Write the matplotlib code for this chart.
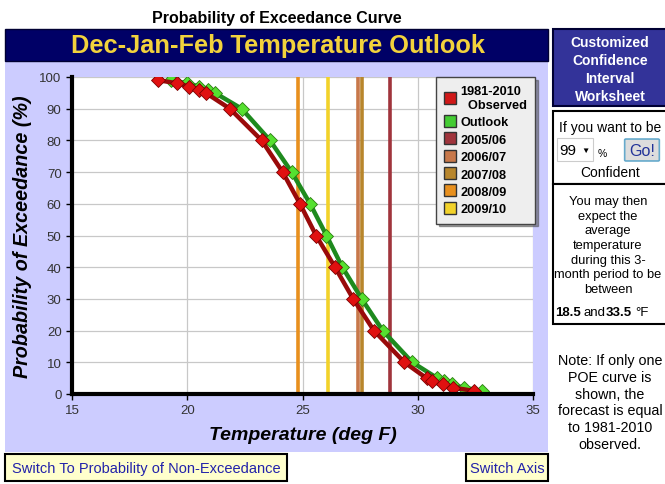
import matplotlib.pyplot as plt
from matplotlib.patches import Rectangle, FancyBboxPatch
from matplotlib.lines import Line2D

plt.rcParams['font.family'] = ['Liberation Sans', 'DejaVu Sans']

# data
prob = [99, 98, 97, 96, 95, 90, 80, 70, 60, 50, 40, 30, 20, 10, 5, 4, 3, 2, 1]
observed = [18.74, 19.57, 20.09, 20.52, 20.8, 21.85, 23.23, 24.14, 24.89, 25.59,
            26.41, 27.2, 28.1, 29.42, 30.38, 30.62, 31.08, 31.55, 32.42]
outlook = [19.28, 19.98, 20.52, 20.91, 21.2, 22.36, 23.59, 24.53, 25.33, 26.04,
           26.73, 27.57, 28.48, 29.76, 30.85, 31.15, 31.48, 31.99, 32.77]
seasons = ['2005/06', '2006/07', '2007/08', '2008/09', '2009/10']
season_temp = [28.8, 27.42, 27.56, 24.8, 26.1]
season_colors = ['#A0343C', '#C8784A', '#B8862C', '#E8901E', '#F2D22A']

W, H = 665, 485
fig = plt.figure(figsize=(W / 100, H / 100), dpi=100)
fig.patch.set_facecolor('white')


def box(x0, y0, x1, y1, fc, ec='none', lw=0):
    fig.patches.append(Rectangle((x0 / W, 1 - y1 / H), (x1 - x0) / W, (y1 - y0) / H,
                                 transform=fig.transFigure, facecolor=fc,
                                 edgecolor=ec, linewidth=lw, zorder=-1))


def text(x, y, s, **kw):
    fig.text(x / W, 1 - y / H, s, ha=kw.pop('ha', 'center'), va=kw.pop('va', 'center'), **kw)


# page background panels
box(5, 62, 548, 453, '#CCCCFF')
box(5, 30, 548, 62, '#000066', ec='#000033', lw=1)
text(277, 18, 'Probability of Exceedance Curve', fontsize=11.5, fontweight='bold')
text(278, 46, 'Dec-Jan-Feb Temperature Outlook', fontsize=18.3, fontweight='bold', color='#F2D23C')

# chart
ax = fig.add_axes([72 / W, 1 - 395 / H, (533 - 72) / W, (395 - 78) / H])
ax.set_zorder(2)
ax.set_facecolor('white')
for t, c in zip(season_temp, season_colors):
    ax.axvline(t, color=c, lw=2.6, zorder=2)
ax.plot(observed, prob, color='#9A0A0A', lw=3.2, marker='D', ms=7.5,
        mfc='#E01010', mec='#7A0000', mew=0.6, zorder=4)
ax.plot(outlook, prob, color='#1E8A1E', lw=3.2, marker='D', ms=7.5,
        mfc='#55E030', mec='#2A7A10', mew=0.6, zorder=3)

ax.set_xlim(15, 35)
ax.set_ylim(0, 100)
ax.set_xticks(range(15, 36, 5))
ax.set_yticks(range(0, 101, 10))
ax.grid(True, color='#C8C8C8', lw=0.9, zorder=0)
ax.set_axisbelow(True)
for s in ['top', 'right']:
    ax.spines[s].set_visible(False)
for s in ['left', 'bottom']:
    ax.spines[s].set_linewidth(3)
    ax.spines[s].set_zorder(6)
ax.tick_params(labelsize=9.5, labelcolor='#333333', length=4, width=1, direction='out')
ax.set_xlabel('Temperature (deg F)', fontsize=14, fontweight='bold', style='italic', labelpad=7)
ax.set_ylabel('Probability of Exceedance (%)', fontsize=14.2, fontweight='bold', style='italic', labelpad=5)

handles = [Line2D([], [], ls='none', marker='s', ms=8.5, mfc='#D01818', mec='#333333'),
           Line2D([], [], ls='none', marker='s', ms=8.5, mfc='#44CC33', mec='#333333')]
handles += [Line2D([], [], ls='none', marker='s', ms=8.5, mfc=c, mec='#333333') for c in season_colors]
labels = ['1981-2010\n  Observed', 'Outlook'] + seasons
leg = ax.legend(handles, labels, loc='upper right', bbox_to_anchor=(1.004, 1.0), borderaxespad=0,
                prop={'weight': 'bold', 'size': 9.2}, frameon=True, fancybox=False,
                shadow=True, facecolor='#EEEEEE', edgecolor='#444444', framealpha=1,
                handlelength=0.8, handletextpad=0.45, labelspacing=0.42, borderpad=0.65)
leg.set_zorder(7)

# bottom buttons
box(5, 455, 287, 482, '#FFFFCC', ec='black', lw=1.5)
text(146, 469, 'Switch To Probability of Non-Exceedance', fontsize=10.5, color='#2222AA')
box(466, 455, 548, 482, '#FFFFCC', ec='black', lw=1.5)
text(507, 469, 'Switch Axis', fontsize=10.5, color='#2222AA')

# right side worksheet
box(553, 30, 668, 107, '#333399', ec='#000033', lw=1.5)
text(610, 70, 'Customized\nConfidence\nInterval\nWorksheet', fontsize=10, fontweight='bold',
     color='white', linespacing=1.38)
box(553, 112, 668, 185, 'white', ec='black', lw=1.5)
text(610, 128, 'If you want to be', fontsize=10)
box(557, 139, 593, 162, 'white', ec='#CCCCCC', lw=0.8)
text(568, 151, '99', fontsize=11)
text(585, 151, '\u25BC', fontsize=6)
text(602, 154, '%', fontsize=7.5)
fig.patches.append(FancyBboxPatch((626 / W, 1 - 161 / H), 32 / W, 20 / H,
                                  boxstyle='round,pad=0.002', transform=fig.transFigure,
                                  facecolor='#DDDDDD', edgecolor='#66AACC', lw=1.2, zorder=-1))
text(642, 151, 'Go!', fontsize=11.5, color='#223399')
text(610, 173, 'Confident', fontsize=10)
box(553, 185, 668, 325, 'white', ec='black', lw=1.5)
text(608, 246, 'You may then\nexpect the\naverage\ntemperature\nduring this 3-\nmonth period to be\nbetween',
     fontsize=9.3, linespacing=1.28)
text(555, 313, '18.5', fontsize=9.5, fontweight='bold', ha='left')
text(584, 313, 'and', fontsize=9.5, ha='left')
text(606, 313, '33.5', fontsize=9.5, fontweight='bold', ha='left')
text(635, 313, '\u00b0F', fontsize=9.5, ha='left')
text(610, 403, 'Note: If only one\nPOE curve is\nshown, the\nforecast is equal\nto 1981-2010\nobserved.',
     fontsize=10.3, linespacing=1.27)

fig.savefig('out.png', dpi=100)
